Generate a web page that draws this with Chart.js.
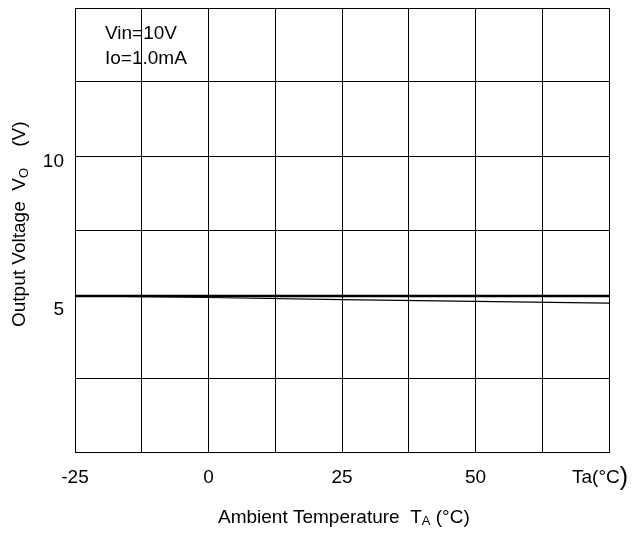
<!DOCTYPE html>
<html>
<head>
<meta charset="utf-8">
<script src="https://cdn.jsdelivr.net/npm/chart.js@4.4.1/dist/chart.umd.min.js"></script>
<style>
  html, body { margin: 0; padding: 0; background: #fff; }
  #wrap { width: 640px; height: 536px; position: relative; }
</style>
</head>
<body>
<div id="wrap"><canvas id="chart"></canvas></div>
<script>
// temperatures (°C) and output voltage readings
const temps = [-25, 0, 25, 50, 75];
const voThick = [5.27, 5.27, 5.27, 5.27, 5.27];
const voThin = [5.27, 5.22, 5.15, 5.09, 5.03];
const xTickLabels = {'-25': '-25', '0': '0', '25': '25', '50': '50'};
const yTickLabels = {'5': '5', '10': '10'};
const notes = ['Vin=10V', 'Io=1.0mA'];

const FONT = '"Liberation Sans", Arial, sans-serif';

const textPlugin = {
    id: 'textPlugin',
    afterDraw(chart) {
        const ctx = chart.ctx;
        const area = chart.chartArea;
        ctx.save();
        ctx.fillStyle = '#000';
        ctx.textBaseline = 'alphabetic';
        ctx.textAlign = 'left';

        // condition notes
        ctx.font = '19px ' + FONT;
        notes.forEach((t, i) => ctx.fillText(t, area.left + 30, area.top + 31 + i * 25));

        // x unit label at the right end
        const base = 'Ta(°C';
        const bx = 572;
        ctx.font = '19px ' + FONT;
        ctx.fillText(base, bx, 483);
        const w = ctx.measureText(base).width;
        ctx.font = '25px ' + FONT;
        ctx.fillText(')', bx + w, 485);

        // x axis title with subscript
        ctx.font = '19px ' + FONT;
        let x = 218;
        const y = 523;
        const p1 = 'Ambient Temperature  T';
        ctx.fillText(p1, x, y);
        x += ctx.measureText(p1).width;
        ctx.font = '13px ' + FONT;
        ctx.fillText('A', x, y + 2);
        x += ctx.measureText('A').width;
        ctx.font = '19px ' + FONT;
        ctx.fillText(' (°C)', x, y);

        // y axis title, rotated, with subscript
        ctx.translate(25, 327);
        ctx.rotate(-Math.PI / 2);
        x = 0;
        const q1 = 'Output Voltage  V';
        ctx.fillText(q1, x, 0);
        x += ctx.measureText(q1).width;
        ctx.font = '13px ' + FONT;
        ctx.fillText('O', x, 3);
        x += ctx.measureText('O').width;
        ctx.font = '19px ' + FONT;
        ctx.fillText('    (V)', x, 0);
        ctx.restore();
    }
};

new Chart(document.getElementById('chart'), {
    type: 'line',
    data: {
        labels: temps,
        datasets: [{
            data: temps.map((t, i) => ({x: t, y: voThick[i]})),
            borderColor: '#000',
            borderWidth: 2.5,
            pointRadius: 0,
            tension: 0
        }, {
            data: temps.map((t, i) => ({x: t, y: voThin[i]})),
            borderColor: '#000',
            borderWidth: 1.2,
            pointRadius: 0,
            tension: 0
        }]
    },
    options: {
        responsive: true,
        maintainAspectRatio: false,
        animation: false,
        layout: { padding: { top: 8, right: 31, left: 0, bottom: 0 } },
        plugins: { legend: { display: false }, tooltip: { enabled: false } },
        scales: {
            x: {
                type: 'linear',
                min: -25,
                max: 75,
                grid: { color: '#000', lineWidth: 1, drawTicks: false },
                border: { color: '#000', width: 1 },
                ticks: {
                    stepSize: 12.5,
                    autoSkip: false,
                    maxRotation: 0,
                    padding: 14,
                    color: '#000',
                    font: { family: FONT, size: 19 },
                    callback: (v) => xTickLabels[String(v)] || ''
                },
                afterFit: (s) => { s.height = 84; s.paddingLeft = 0; s.paddingRight = 0; }
            },
            y: {
                min: 0,
                max: 15,
                grid: {
                    color: (c) => (c.tick && c.tick.value === 5) ? 'rgba(0,0,0,0)' : '#000',
                    lineWidth: 1,
                    drawTicks: false
                },
                border: { color: '#000', width: 1 },
                ticks: {
                    stepSize: 2.5,
                    autoSkip: false,
                    padding: 11,
                    labelOffset: 6,
                    color: '#000',
                    font: { family: FONT, size: 19 },
                    callback: (v) => yTickLabels[String(v)] || ''
                },
                afterFit: (s) => { s.width = 75; s.paddingTop = 0; s.paddingBottom = 0; }
            }
        }
    },
    plugins: [textPlugin]
});
</script>
</body>
</html>
